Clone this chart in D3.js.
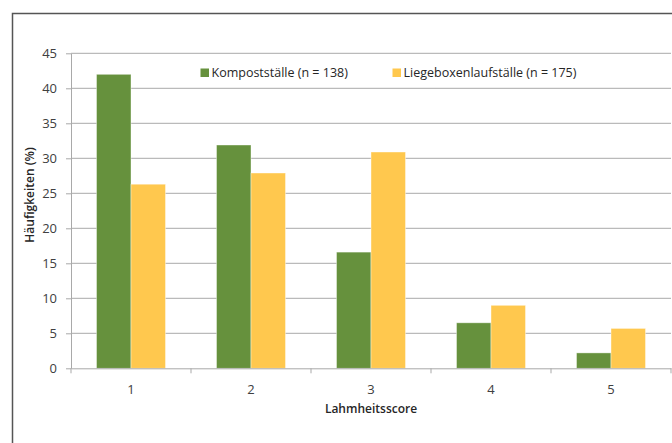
<!DOCTYPE html>
<html><head><meta charset="utf-8">
<script src="https://cdn.jsdelivr.net/npm/d3@7"></script>
<style>
html,body{margin:0;padding:0;background:#fff;}
svg{display:block;font-family:"Open Sans",sans-serif;}
</style></head>
<body>
<script>
const categories = ["1","2","3","4","5"];
const seriesNames = ["Kompostställe (n = 138)","Liegeboxenlaufställe (n = 175)"];
const kompost = [42.0, 31.9, 16.6, 6.5, 2.2];
const liegebox = [26.3, 27.9, 30.9, 9.0, 5.7];
const yTicks = [0,5,10,15,20,25,30,35,40,45];
const colors = ["#66913D","#FFC84E"];

const W=672,H=443;
const svg=d3.select("body").append("svg").attr("width",W).attr("height",H);

// outer frame (left and top)
svg.append("path").attr("d","M12.5,443 V13.5 H672").attr("fill","none").attr("stroke","#555").attr("stroke-width",1.5);

const x0=71,x1=671,y0=368.3,y1=53.3;
const x=d3.scaleBand().domain(categories).range([x0,x1]);
const y=d3.scaleLinear().domain([0,45]).range([y0,y1]);
const xs=d3.scaleBand().domain([0,1]).range([0,69]);

// gridlines
svg.append("g").selectAll("line").data(yTicks.filter(d=>d>0)).join("line")
  .attr("x1",x0).attr("x2",x1).attr("y1",d=>y(d)).attr("y2",d=>y(d))
  .attr("stroke","#A9A9A9").attr("stroke-width",1);

// y axis
const ya=svg.append("g").attr("transform",`translate(${x0},0)`)
  .call(d3.axisLeft(y).tickValues(yTicks).tickSize(5).tickSizeOuter(0).tickPadding(9));
ya.select(".domain").attr("stroke","#A9A9A9");
ya.selectAll(".tick line").attr("stroke","#A9A9A9");
ya.selectAll("text").attr("fill","#404040").style("font-size","13px").style("font-family","Open Sans");

// bars
const data=[kompost,liegebox];
data.forEach((vals,si)=>{
  svg.append("g").selectAll("rect").data(categories).join("rect")
    .attr("x",(c)=>x(c)+(x.bandwidth()-69)/2+xs(si))
    .attr("width",xs.bandwidth())
    .attr("y",(c,i)=>y(vals[i]))
    .attr("height",(c,i)=>y0-y(vals[i]))
    .attr("fill",colors[si])
    .attr("stroke","#fff").attr("stroke-opacity",0.5).attr("stroke-width",0.8);
});

// x axis
const xa=svg.append("g").attr("transform",`translate(0,${y0})`)
  .call(d3.axisBottom(x).tickSize(0).tickPadding(16));
xa.select(".domain").attr("stroke","#A9A9A9");
xa.selectAll("text").attr("fill","#404040").style("font-size","13px").style("font-family","Open Sans");
// boundary ticks
svg.append("g").selectAll("line").data(d3.range(categories.length+1)).join("line")
  .attr("x1",i=>x0+i*x.step()).attr("x2",i=>x0+i*x.step())
  .attr("y1",y0).attr("y2",y0+5).attr("stroke","#A9A9A9");

// axis titles
svg.append("text").attr("x",(x0+x1)/2).attr("y",412.5).attr("text-anchor","middle")
  .attr("fill","#262626").style("font-size","12px").style("font-weight","600").text("Lahmheitsscore");
svg.append("text").attr("transform","translate(34,195) rotate(-90)").attr("text-anchor","middle")
  .attr("fill","#262626").style("font-size","12px").style("font-weight","600").text("Häufigkeiten (%)");

// legend
const legX=[200.5,392.5];
seriesNames.forEach((n,i)=>{
  svg.append("rect").attr("x",legX[i]).attr("y",68.5).attr("width",8.5).attr("height",8.5).attr("fill",colors[i]);
  svg.append("text").attr("x",legX[i]+11).attr("y",77).attr("fill","#262626")
    .style("font-size","12.5px").text(n);
});
</script>
</body></html>
